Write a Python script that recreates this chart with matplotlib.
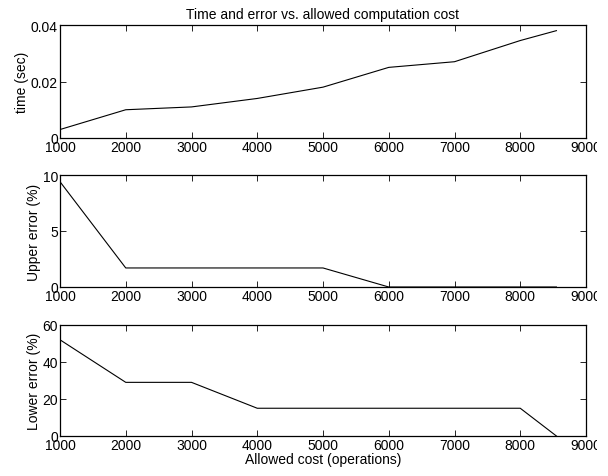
import numpy as np
import matplotlib.pyplot as plt
from matplotlib.transforms import Bbox, TransformedBbox

plt.rcParams['font.family'] = ['Liberation Sans', 'DejaVu Sans']

cost = [1000, 2000, 3000, 4000, 5000, 6000, 7000, 8000, 8550]
time_sec = [0.003, 0.010, 0.011, 0.014, 0.018, 0.025, 0.027, 0.0345, 0.038]
upper_err = [9.4, 1.7, 1.7, 1.7, 1.7, 0.0, 0.0, 0.0, 0.0]
lower_err = [52, 29, 29, 15, 15, 15, 15, 15, 0]

xticks = [1000, 2000, 3000, 4000, 5000, 6000, 7000, 8000, 9000]

fig = plt.figure(figsize=(6.08, 4.77), dpi=100)
W, H = 608, 477
boxes = [(60, 26, 586, 139), (60, 176, 586, 288), (60, 326, 586, 437)]
series = [time_sec, upper_err, lower_err]
ylims = [(0, 0.04), (0, 10), (0, 60)]
yticks = [[0, 0.02, 0.04], [0, 5, 10], [0, 20, 40, 60]]
ylabels = ["time (sec)", "Upper error (%)", "Lower error (%)"]

# the reference image is cut off just right of the last tick label
clip = TransformedBbox(Bbox([[0, 0], [597 / W, 1]]), fig.transFigure)

axes = []
for (x0, y0, x1, y1), y, lim, yt, lab in zip(boxes, series, ylims, yticks, ylabels):
    ax = fig.add_axes([x0 / W, 1 - y1 / H, (x1 - x0) / W, (y1 - y0) / H])
    ax.plot(cost, y, color='black', linewidth=0.8)
    ax.set_xlim(1000, 9000)
    ax.set_ylim(*lim)
    ax.set_xticks(xticks)
    ax.set_yticks(yt)
    if lim[1] == 0.04:
        ax.set_yticklabels(["0", "0.02", "0.04"])
    ax.tick_params(direction='in', top=True, right=True, labelsize=10,
                   length=4, width=0.6, pad=1.5)
    ax.set_ylabel(lab, fontsize=10, labelpad=1)
    for s in ax.spines.values():
        s.set_linewidth(0.9)
    for t in ax.get_xticklabels():
        t.set_clip_box(clip)
        t.set_clip_on(True)
    axes.append(ax)

axes[0].set_title("Time and error vs. allowed computation cost", fontsize=10, pad=5)
axes[2].set_xlabel("Allowed cost (operations)", fontsize=10, labelpad=0)

fig.savefig("out.png", dpi=100)
